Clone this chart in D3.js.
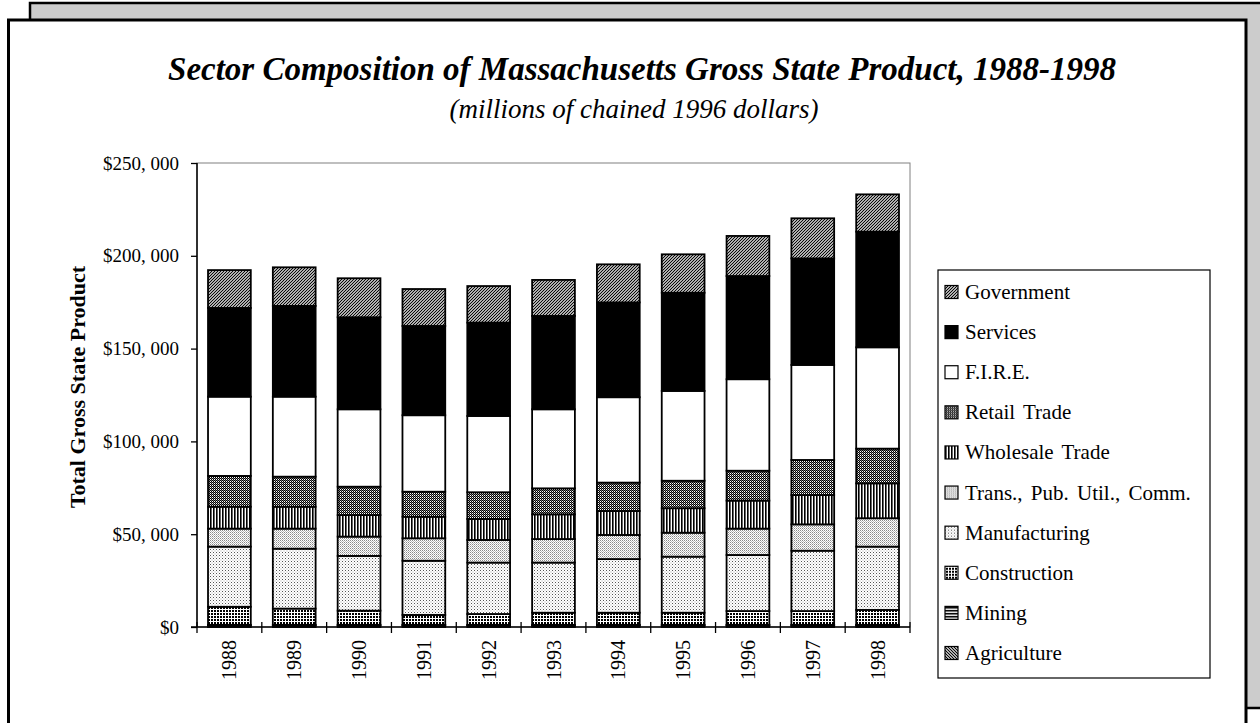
<!DOCTYPE html>
<html>
<head>
<meta charset="utf-8">
<script src="https://cdn.jsdelivr.net/npm/d3@7/dist/d3.min.js"></script>
<style>
  html, body { margin: 0; padding: 0; background: #ffffff; }
  svg { display: block; }
  text { font-family: "Liberation Serif", "Times New Roman", serif; fill: #000; }
</style>
</head>
<body>
<svg id="chart" width="1260" height="723"></svg>
<script>
// ---------------- DATA (millions of chained 1996 dollars) ----------------
const years = ["1988","1989","1990","1991","1992","1993","1994","1995","1996","1997","1998"];
const sectors = ["Agriculture","Mining","Construction","Manufacturing","Trans., Pub. Util., Comm.",
                 "Wholesale Trade","Retail Trade","F.I.R.E.","Services","Government"];
const agriculture   = [900, 900, 900, 900, 900, 900, 900, 900, 900, 900, 900];
const mining        = [250, 250, 250, 250, 250, 250, 250, 250, 250, 250, 250];
const construction  = [9750, 8750, 7650, 5350, 5850, 6550, 6550, 6550, 7450, 7450, 8050];
const manufacturing = [32400, 32300, 29500, 29200, 27700, 27000, 28900, 30200, 30200, 32500, 34100];
const transPubUtil  = [9700, 10800, 10400, 12100, 12200, 12700, 13000, 12900, 14200, 14200, 15300];
const wholesale     = [11800, 11800, 11600, 11600, 11300, 13300, 12900, 13200, 15100, 15800, 18800];
const retail        = [16600, 16200, 15300, 13500, 14400, 14000, 15300, 14800, 16100, 18900, 18700];
const fire          = [42700, 43100, 41700, 41200, 41100, 42600, 46000, 48400, 49300, 51200, 54600];
const services      = [47800, 48900, 49600, 48100, 50300, 50300, 51100, 52900, 55600, 57400, 62300];
const government    = [20400, 20800, 21000, 19900, 19700, 19400, 20500, 20700, 21600, 21600, 20100];
const yTicks = [0, 50000, 100000, 150000, 200000, 250000];
const titleText = "Sector Composition of Massachusetts Gross State Product, 1988-1998";
const subtitleText = "(millions of chained 1996 dollars)";
const yAxisTitle = "Total Gross State Product";

const seriesValues = [agriculture, mining, construction, manufacturing, transPubUtil,
                      wholesale, retail, fire, services, government];
const table = years.map((y, i) => {
  const row = { year: y };
  sectors.forEach((s, k) => row[s] = seriesValues[k][i]);
  return row;
});

const SERIF = '"Liberation Serif", "Times New Roman", serif';

// ---------------- SVG ----------------
const svg = d3.select("#chart");
const defs = svg.append("defs");

function pat(id, w, h, bg, draw) {
  const p = defs.append("pattern").attr("id", id)
    .attr("patternUnits", "userSpaceOnUse").attr("width", w).attr("height", h);
  p.append("rect").attr("width", w).attr("height", h).attr("fill", bg);
  draw(p);
}
// Government: "/" hatch
pat("p-gov", 3, 3, "#fff", p => p.append("path")
  .attr("d", "M-1,1 l2,-2 M0,3 l3,-3 M2,4 l2,-2").attr("stroke", "#000").attr("stroke-width", 1.2));
// Services: solid black
pat("p-serv", 4, 4, "#000", p => {});
// FIRE: white
pat("p-fire", 4, 4, "#fff", p => {});
// Retail: dark checker
pat("p-retail", 2, 2, "#fff", p => {
  p.append("rect").attr("x", 0).attr("y", 0).attr("width", 1).attr("height", 1).attr("fill", "#000");
  p.append("rect").attr("x", 1).attr("y", 1).attr("width", 1).attr("height", 1).attr("fill", "#000");
  p.append("rect").attr("x", 1).attr("y", 0).attr("width", 1).attr("height", 1).attr("fill", "#777");
});
// Wholesale: vertical stripes
pat("p-whole", 3, 3, "#fff", p => p.append("rect").attr("width", 1.6).attr("height", 3).attr("fill", "#000"));
// Trans: light dotted
pat("p-trans", 2, 2, "#fff", p => {
  p.append("rect").attr("width", 1).attr("height", 1).attr("fill", "#888");
  p.append("rect").attr("x", 1).attr("y", 1).attr("width", 1).attr("height", 1).attr("fill", "#bbb");
});
// Manufacturing: lighter dotted
pat("p-manuf", 3, 3, "#fff", p => {
  p.append("rect").attr("width", 1).attr("height", 1).attr("fill", "#555");
  p.append("rect").attr("x", 1.5).attr("y", 1.5).attr("width", 1).attr("height", 1).attr("fill", "#aaa");
});
// Construction: white grid on black
pat("p-constr", 3, 3, "#000", p => {
  p.append("rect").attr("width", 3).attr("height", 1).attr("fill", "#fff");
  p.append("rect").attr("width", 1).attr("height", 3).attr("fill", "#fff");
});
// Mining: horizontal lines
pat("p-mining", 3, 3, "#fff", p => p.append("rect").attr("width", 3).attr("height", 1.6).attr("fill", "#000"));
// Agriculture: "\" hatch
pat("p-agri", 3, 3, "#fff", p => p.append("path")
  .attr("d", "M-1,-1 l5,5 M-1,2 l2,2 M2,-1 l2,2").attr("stroke", "#000").attr("stroke-width", 1.2));

const fills = ["url(#p-agri)","url(#p-mining)","url(#p-constr)","url(#p-manuf)","url(#p-trans)",
               "url(#p-whole)","url(#p-retail)","url(#p-fire)","url(#p-serv)","url(#p-gov)"];

// ---------------- FRAME ----------------
svg.append("rect").attr("x", 30).attr("y", 3).attr("width", 1260).attr("height", 705)
  .attr("fill", "#cccccc").attr("stroke", "#000").attr("stroke-width", 2.5);
svg.append("rect").attr("x", 8.5).attr("y", 20).attr("width", 1237.5).attr("height", 740)
  .attr("fill", "#fff").attr("stroke", "#000").attr("stroke-width", 3);

// ---------------- TITLES ----------------
svg.append("text").attr("x", 642).attr("y", 80).attr("text-anchor", "middle")
  .style("font-family", SERIF)
  .attr("font-size", 33).attr("font-weight", "bold").attr("font-style", "italic").text(titleText);
svg.append("text").attr("x", 634).attr("y", 118).attr("text-anchor", "middle")
  .style("font-family", SERIF)
  .attr("font-size", 27).attr("font-style", "italic").text(subtitleText);

// ---------------- SCALES ----------------
const plot = { left: 197, right: 910, top: 163, bottom: 627 };
const x = d3.scaleBand().domain(years).range([plot.left, plot.right])
  .paddingInner(0.34).paddingOuter(0.17);
const y = d3.scaleLinear().domain([0, 250000]).range([plot.bottom, plot.top]);

// plot area border
svg.append("rect").attr("x", plot.left).attr("y", plot.top)
  .attr("width", plot.right - plot.left).attr("height", plot.bottom - plot.top)
  .attr("fill", "none").attr("stroke", "#808080").attr("stroke-width", 1);

// ---------------- BARS ----------------
const stack = d3.stack().keys(sectors)(table);
const g = svg.append("g");
stack.forEach((layer, k) => {
  g.append("g").selectAll("rect").data(layer).join("rect")
    .attr("x", d => x(d.data.year))
    .attr("y", d => y(d[1]))
    .attr("width", x.bandwidth())
    .attr("height", d => Math.max(0, y(d[0]) - y(d[1])))
    .attr("fill", fills[k])
    .attr("stroke", "#000").attr("stroke-width", 1.8);
});

// ---------------- AXES ----------------
const fmt = v => "$" + d3.format(",")(v).replace(/,/g, ", ");
const yAxis = svg.append("g").attr("transform", `translate(${plot.left},0)`)
  .call(d3.axisLeft(y).tickValues(yTicks).tickFormat(fmt).tickSize(6).tickPadding(12));
yAxis.select(".domain").attr("stroke", "#000").attr("stroke-width", 1.5).attr("d", `M0,${plot.top}V${plot.bottom}`);
yAxis.selectAll(".tick line").attr("stroke", "#000").attr("stroke-width", 1.3);
yAxis.selectAll(".tick text").attr("font-size", 19).style("font-family", SERIF);

// x axis line
svg.append("line").attr("x1", plot.left - 6).attr("x2", plot.right).attr("y1", plot.bottom).attr("y2", plot.bottom)
  .attr("stroke", "#000").attr("stroke-width", 1.5);
// x ticks at band boundaries
const boundaries = years.map(yr => x(yr) - x.step() * x.paddingInner() / 2)
  .concat([plot.right]);
svg.append("g").selectAll("line").data(boundaries).join("line")
  .attr("x1", d => d).attr("x2", d => d)
  .attr("y1", plot.bottom - 5).attr("y2", plot.bottom + 6)
  .attr("stroke", "#000").attr("stroke-width", 1.3);
// x labels
svg.append("g").selectAll("text").data(years).join("text")
  .attr("transform", d => `translate(${x(d) + x.bandwidth() / 2 + 7},${plot.bottom + 13}) rotate(-90)`)
  .style("font-family", SERIF)
  .attr("text-anchor", "end").attr("font-size", 20).text(d => d);

// y axis title
svg.append("text").attr("transform", `translate(85,${(plot.top + plot.bottom) / 2 - 8}) rotate(-90)`)
  .style("font-family", SERIF)
  .attr("text-anchor", "middle").attr("font-size", 22).attr("font-weight", "bold").text(yAxisTitle);

// ---------------- LEGEND ----------------
const leg = svg.append("g");
leg.append("rect").attr("x", 938).attr("y", 270).attr("width", 272).attr("height", 408)
  .attr("fill", "#fff").attr("stroke", "#000").attr("stroke-width", 1.2);
const legOrder = sectors.map((s, k) => ({ s, k })).reverse();
const ly = d3.scalePoint().domain(legOrder.map(d => d.s)).range([292, 653]);
const items = leg.selectAll("g.item").data(legOrder).join("g").attr("class", "item")
  .attr("transform", d => `translate(945,${ly(d.s)})`);
items.append("rect").attr("x", 0).attr("y", -6.5).attr("width", 13).attr("height", 13)
  .attr("fill", d => fills[d.k]).attr("stroke", "#000").attr("stroke-width", 1.2);
items.append("text").attr("x", 20).attr("y", 7).attr("font-size", 21)
  .style("font-family", SERIF).style("word-spacing", "3px").text(d => d.s);
</script>
</body>
</html>
